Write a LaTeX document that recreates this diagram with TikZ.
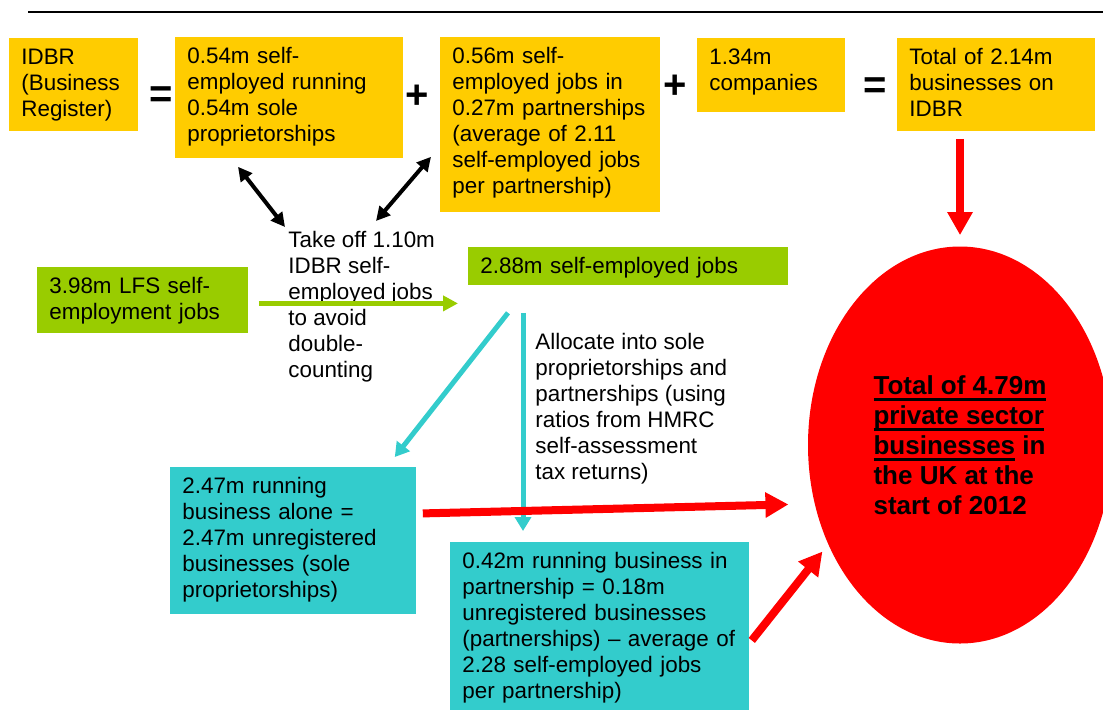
\documentclass[tikz,border=0pt]{standalone}
\usepackage{fontspec}
\setmainfont{Liberation Sans}
\usepackage{tikz}
\usetikzlibrary{calc}
\usetikzlibrary{shapes.geometric, arrows.meta}
\definecolor{idbryellow}{HTML}{FFCC00}
\definecolor{lfsgreen}{HTML}{99CC00}
\definecolor{splitcyan}{HTML}{33CCCC}
\definecolor{totalred}{HTML}{FF0000}
\newcommand{\boxfont}{\fontsize{11.2}{13}\selectfont}
\newcommand{\ulword}[1]{\setbox0=\hbox{#1}\rlap{\vrule width\wd0 height -2pt depth 3.2pt}\box0\relax}
\tikzstyle{databox} = [rectangle, 
anchor=north west, 
align=left, 
inner xsep=6pt, 
inner ysep=2pt, 
text height=11pt, 
font=\boxfont]
\tikzstyle{ybox} = [databox, fill=idbryellow]
\tikzstyle{gbox} = [databox, fill=lfsgreen]
\tikzstyle{cbox} = [databox, fill=splitcyan]
\tikzstyle{note} = [anchor=north west, align=left, inner sep=0pt, font=\boxfont]
\tikzstyle{sign} = [inner sep=0pt, font=\fontsize{20}{20}\selectfont\bfseries]
\tikzstyle{blackarrow} = [line width=2pt, {Triangle[length=7pt,width=7pt]}-{Triangle[length=7pt,width=7pt]}]
\tikzstyle{greenarrow} = [line width=2.5pt, draw=lfsgreen, -{Triangle[length=7.5pt,width=7.5pt]}]
\tikzstyle{cyanarrow} = [line width=2.5pt, draw=splitcyan, -{Triangle[length=7pt,width=8pt]}]
\tikzstyle{redarrow} = [line width=4pt, draw=totalred, -{Triangle[length=11.5pt,width=12pt]}]

\begin{document}
\begin{tikzpicture} [x=0.5pt, y=-0.5pt]
    \useasboundingbox (0,0) rectangle (1103,709);
    \draw [line width=1.2pt] (28,12) -- (1103,12);

    % top row: the register sum
    \node (idbr) [ybox, text width=52.5pt, text depth=31.5pt] at (9,38) {IDBR\\(Business\\Register)};
    \node (eqa) [sign] at (161,97) {=};
    \node (soleprop) [ybox, text width=102pt, text depth=45.5pt] at (175,37) {0.54m self-\\employed running\\0.54m sole\\proprietorships};
    \node (plusa) [sign] at (417,97) {+};
    \node (partners) [ybox, text width=98pt, text depth=72.5pt] at (440,37) {0.56m self-\\employed jobs in\\0.27m partnerships\\(average of 2.11\\self-employed jobs\\per partnership)};
    \node (plusb) [sign] at (675,87) {+};
    \node (companies) [ybox, text width=62pt, text depth=22pt] at (697,38) {1.34m\\companies};
    \node (eqb) [sign] at (875,88) {=};
    \node (idbrtotal) [ybox, text width=87pt, text depth=31.5pt] at (897,38) {Total of 2.14m\\businesses on\\IDBR};

    % LFS side
    \node (takeoff) [note] at (288,231) {Take off 1.10m\\IDBR self-\\employed jobs\\to avoid\\double-\\counting};
    \node (lfs) [gbox, text width=93.5pt, text depth=18pt] at (37,267) {3.98m LFS self-\\employment jobs};
    \node (selfemp) [gbox, text width=148pt, text depth=4pt] at (468,247) {2.88m self-employed jobs};
    \node (allocate) [note] at (535,333) {Allocate into sole\\proprietorships and\\partnerships (using\\ratios from HMRC\\self-assessment\\tax returns)};
    \node (alone) [cbox, text width=111pt, text depth=58.5pt] at (170,467) {2.47m running\\business alone =\\2.47m unregistered\\businesses (sole\\proprietorships)};
    \node (partbiz) [cbox, text width=137.5pt, text depth=70pt] at (450,542) {0.42m running business in\\partnership = 0.18m\\unregistered businesses\\(partnerships) – average of\\2.28 self-employed jobs\\per partnership)};

    \node (total) [ellipse, fill=totalred, minimum width=152pt, minimum height=198.5pt, inner sep=0pt, align=left, font=\fontsize{13}{15}\selectfont\bfseries] at (960,445) {\ulword{Total of 4.79m}\\\ulword{private sector}\\\ulword{businesses} in\\the UK at the\\start of 2012};

    \draw [blackarrow] ([shift={(63,8)}]soleprop.south west) -- ([shift={(-3,-4)}]takeoff.north west);
    \draw [blackarrow] ([shift={(-9,-56)}]partners.south west) -- ([shift={(88,-10)}]takeoff.north west);
    \draw [greenarrow] ($(lfs.east)+(10,3)$) -- ($(lfs.east -| selfemp.west)+(-10,3)$);
    \draw [cyanarrow] ([shift={(40,27)}]selfemp.south west) -- ([shift={(-22,-10)}]alone.north east);
    \draw [cyanarrow] ([shift={(55,27)}]selfemp.south west) -- ([shift={(73,-11)}]partbiz.north west);
    \draw [redarrow] ([shift={(63,7)}]idbrtotal.south west) -- ([shift={(0,-11)}]total.north);
    \draw [redarrow, shorten >=13pt] ([shift={(6,-27.5)}]alone.east) -- (total.202);
    \draw [redarrow, shorten >=4.5pt] ([shift={(2,13)}]partbiz.east) -- (total.217);

\end{tikzpicture}
\end{document}
